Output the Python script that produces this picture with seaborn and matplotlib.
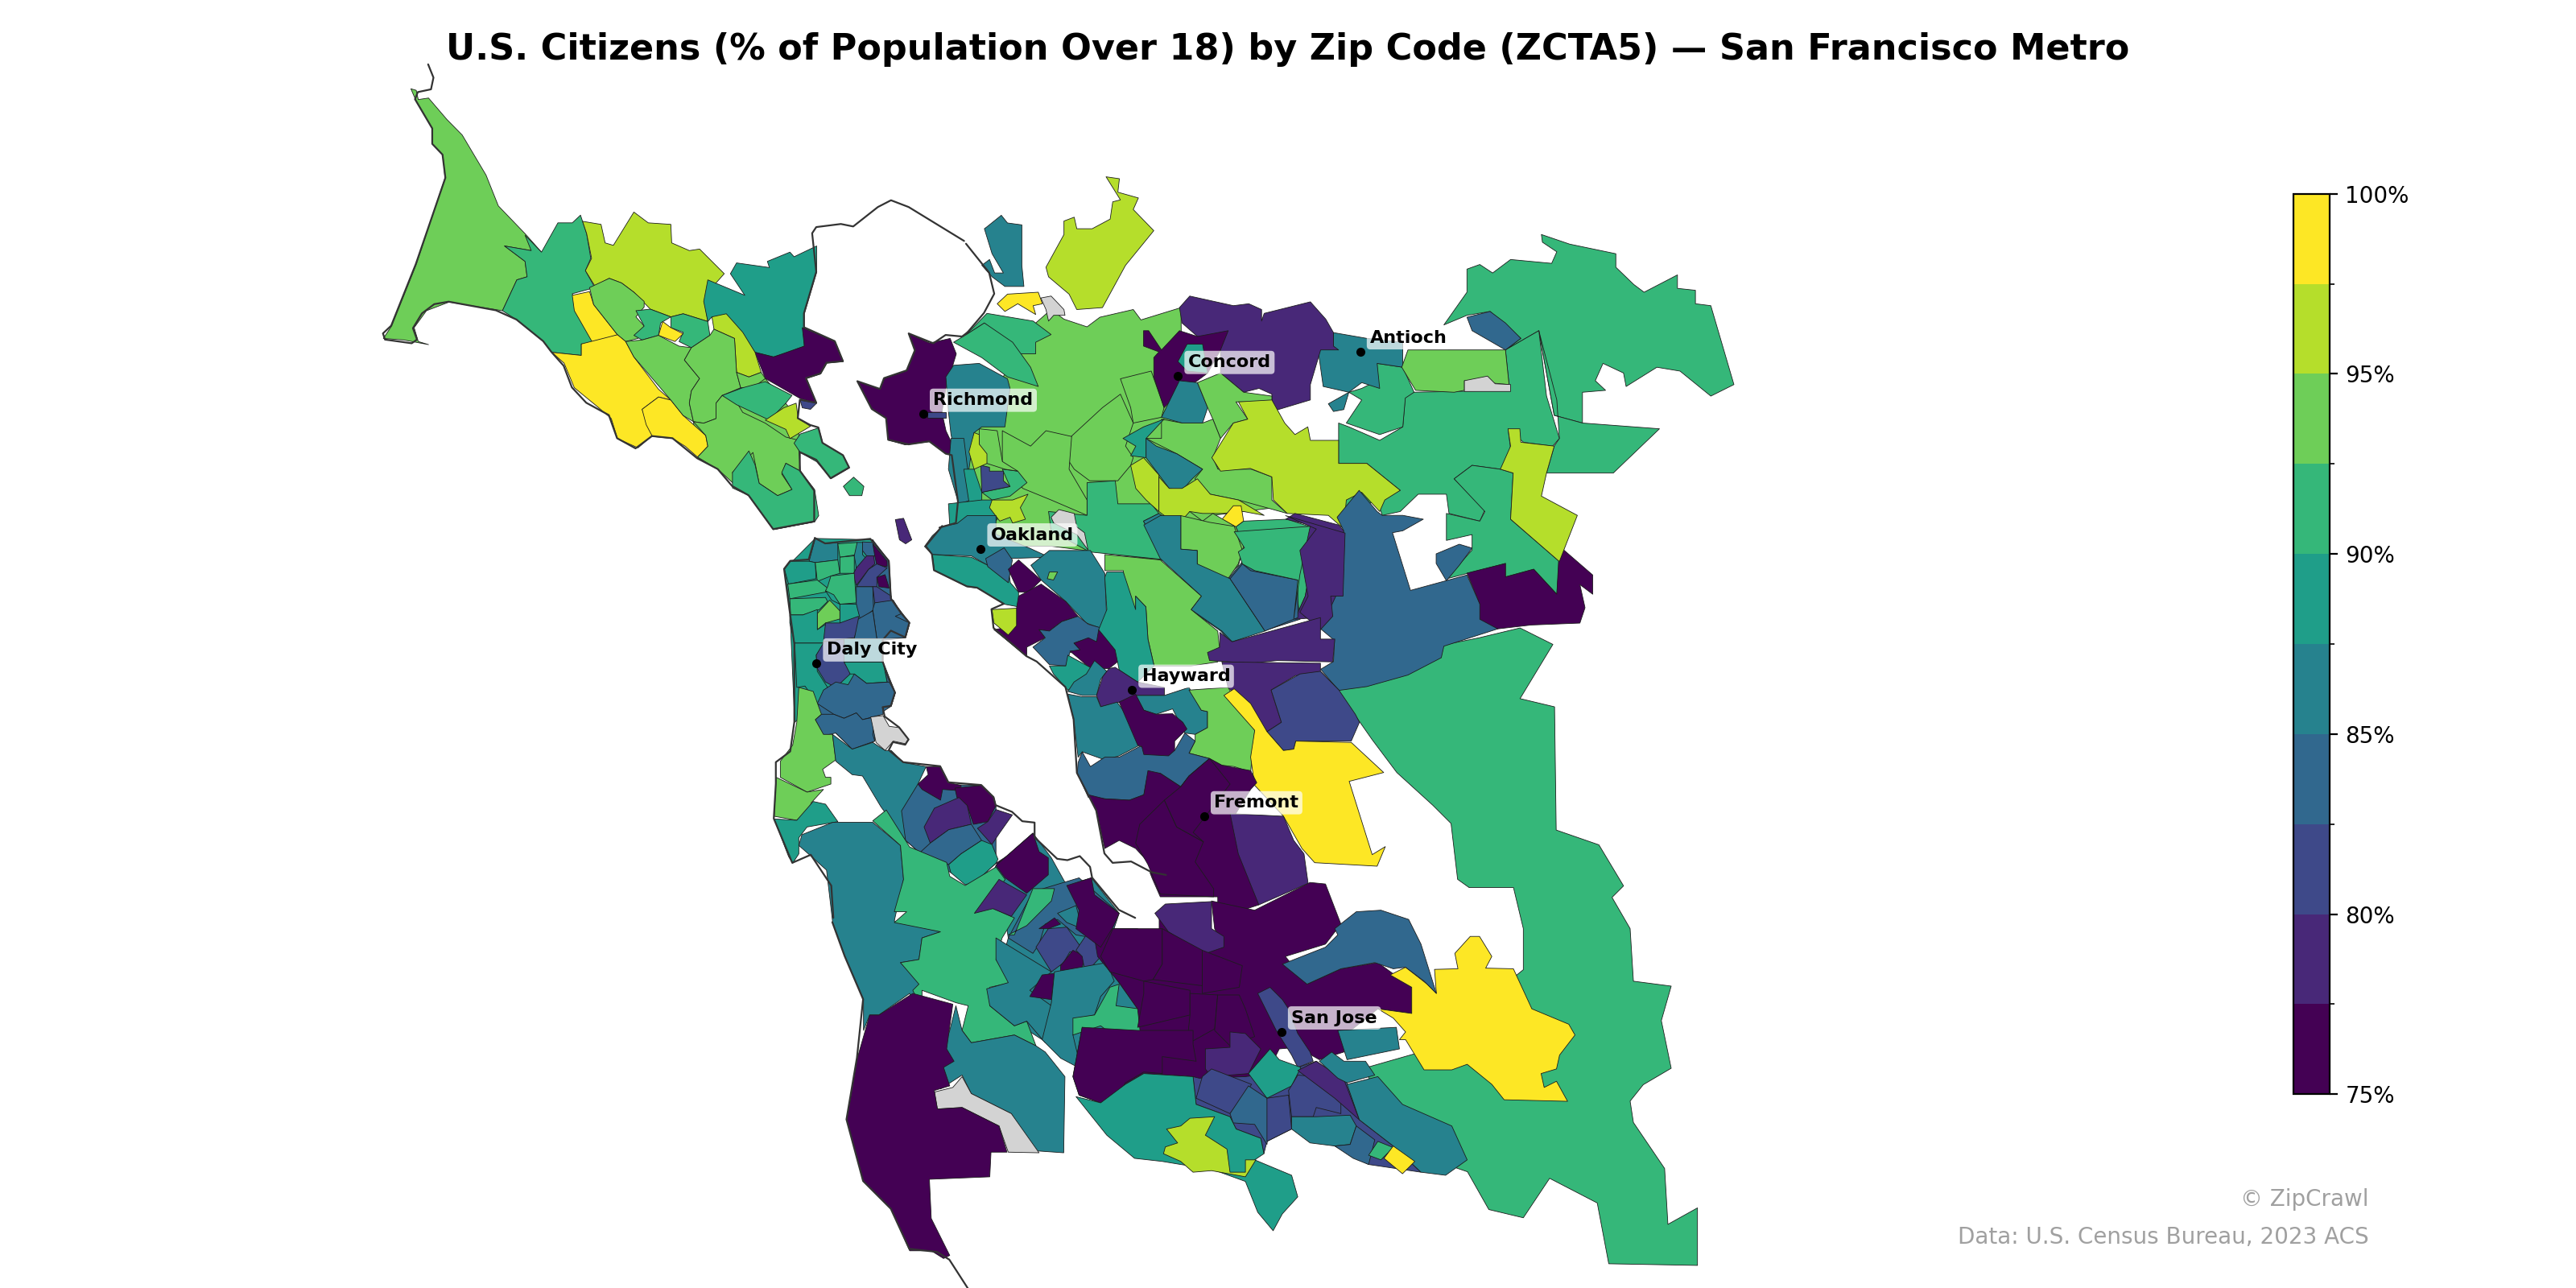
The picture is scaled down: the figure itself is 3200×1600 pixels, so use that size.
import numpy as np
import pandas as pd
import seaborn as sns
import matplotlib
matplotlib.use("Agg")
import matplotlib.pyplot as plt
from matplotlib.collections import PolyCollection
from matplotlib.colors import BoundaryNorm, ListedColormap
from matplotlib.cm import ScalarMappable

TITLE = "U.S. Citizens (% of Population Over 18) by Zip Code (ZCTA5) — San Francisco Metro"
BIN_EDGES = [75, 77.5, 80, 82.5, 85, 87.5, 90, 92.5, 95, 97.5, 100]
TICKS = [75, 80, 85, 90, 95, 100]
TICK_LABELS = ["75%", "80%", "85%", "90%", "95%", "100%"]
CITY_NAMES = ["Richmond", "Concord", "Antioch", "Oakland", "Daly City", "Hayward", "Fremont", "San Jose"]
CITY_X = [562, 717, 828, 597, 497, 689, 733, 780]
CITY_Y = [252, 229, 214, 334, 404, 420, 497, 628]
NA = float("nan")

# Zip outlines with their % value, each group traced in its own map frame: (x0, y0, xdiv, ydiv)
FRAME_E = (0, 0, 1, 1)
FRAME_N = (215.6, 29.4, 4.0, 5.33)
FRAME_C = (588, 98, 3.2, 4.27)
FRAME_P = (441, 313.6, 4.0, 6.12)
FRAME_S = (441, 490, 2.667, 5.33)

EAST_ZIPS = [
 (91, [(814,420),(880,392),(900,388),(925,382),(945,392),(925,425),(946,430),(947,505),(973,514),(988,539),(981,546),(992,565),(994,597),(1017,600),(1011,621),(1017,650),(1000,660),(992,670),(994,683),(1013,711),(1015,745),(1033,735),(1033,770),(979,769),(972,732),(943,717),(927,741),(906,736),(893,713),(855,700),(830,650),(865,640),(927,590),(927,565),(921,540),(894,540),(887,535),(883,501),(872,490),(850,470),(835,450)]),
]

NORTH_ZIPS = [
 (93.5, [(137,130),(150,135),(155,165),(180,160),(225,230),(262,280),(320,410),(350,510),(415,600),(455,660),(430,655),(365,640),(415,690),(420,740),(395,750),(360,850),(230,822),(175,850),(145,905),(155,950),(180,960),(120,945),(70,940),(90,900),(150,700),(220,420),(215,345),(190,310),(190,260),(150,170)]),
 (93.5, [(825,1210),(895,1125),(1000,1070),(1080,1200),(1085,1370),(1120,1435),(1120,1535),(1020,1560),(960,1450),(885,1365),(835,1325)]),
 (91, [(365,640),(430,655),(415,605),(455,660),(495,565),(530,565),(550,540),(565,600),(575,680),(562,720),(585,775),(530,795),(575,920),(585,955),(552,958),(552,995),(480,985),(460,950),(395,880),(360,850),(395,750),(420,740),(415,690)]),
 (96, [(555,560),(600,570),(610,630),(630,638),(680,530),(715,565),(770,570),(772,630),(815,655),(840,650),(900,730),(860,790),(852,820),(860,885),(800,860),(770,870),(720,845),(680,790),(650,760),(620,745),(585,770),(562,720),(577,680),(565,600)]),
 (88.5, [(860,750),(950,800),(915,730),(930,695),(1010,710),(1005,690),(1060,660),(1070,675),(1125,640),(1125,725),(1095,860),(1095,965),(1045,990),(1020,1000),(975,985),(930,900),(870,870),(860,885),(850,820)]),
 (76, [(1090,905),(1170,950),(1190,1015),(1150,1020),(1135,1055),(1100,1070),(1125,1150),(1085,1135),(1000,1070),(975,985),(1020,1000),(1095,965)]),
 (99, [(530,800),(572,788),(582,830),(640,928),(590,952),(580,955),(535,850)]),
 (93.5, [(572,775),(620,745),(650,760),(680,790),(705,820),(705,838),(685,870),(705,900),(690,940),(660,950),(640,928),(582,830)]),
 (91, [(685,850),(720,845),(770,870),(745,890),(740,930),(700,945),(680,930),(705,900)]),
 (91, [(770,870),(800,860),(860,885),(865,930),(820,970),(790,950),(800,920),(770,905)]),
 (99, [(750,885),(770,905),(800,925),(780,950),(740,930)]),
 (96, [(870,870),(905,860),(945,920),(975,985),(990,1050),(960,1065),(930,1050),(925,940),(875,910)]),
 (99, [(480,985),(552,995),(552,958),(640,928),(660,950),(680,1000),(740,1105),(770,1140),(740,1130),(700,1170),(725,1255),(690,1295),(640,1265),(625,1200),(590,1160),(535,1100),(510,1020)]),
 (99, [(740,1130),(770,1140),(800,1190),(855,1255),(860,1290),(835,1325),(805,1290),(775,1265),(725,1258),(710,1220),(700,1170)]),
 (93.5, [(660,950),(700,945),(740,930),(790,965),(820,970),(803,1010),(840,1070),(820,1110),(815,1150),(825,1210),(800,1190),(770,1140),(680,1000)]),
 (93.5, [(820,970),(865,930),(875,910),(925,940),(930,1050),(940,1100),(895,1125),(880,1150),(880,1200),(850,1215),(825,1210),(815,1150),(820,1110),(840,1070),(803,1010)]),
 (93.5, [(930,1050),(960,1065),(990,1050),(1000,1070),(970,1100),(940,1100)]),
 (93.5, [(895,1125),(925,1135),(945,1180),(1000,1215),(1050,1260),(1080,1270),(1085,1370),(1050,1345),(1040,1380),(1065,1430),(1030,1450),(985,1410),(970,1310),(920,1375),(930,1420),(885,1365),(835,1325),(860,1290),(855,1255),(825,1210),(850,1215),(880,1200),(880,1150)]),
 (91, [(960,1305),(975,1350),(985,1410),(1030,1450),(1065,1430),(1040,1375),(1050,1345),(1085,1370),(1120,1430),(1130,1515),(1120,1535),(1020,1560),(960,1450),(920,1425),(920,1375)]),
 (91, [(895,1125),(945,1100),(1000,1080),(1065,1125),(1050,1150),(1010,1205),(970,1180),(930,1155)]),
 (96, [(1045,1165),(1075,1150),(1080,1200),(1110,1225),(1060,1265),(1050,1235),(1000,1205)]),
 (91, [(1085,1250),(1130,1230),(1140,1280),(1190,1320),(1205,1360),(1160,1395),(1125,1340),(1085,1310),(1070,1280)]),
 (91, [(1190,1420),(1215,1390),(1240,1420),(1235,1450),(1205,1450)]),
 (81, [(1085,1140),(1125,1150),(1110,1170),(1090,1165)]),
 (76, [(1350,925),(1400,955),(1450,940),(1465,990),(1440,1100),(1430,1180),(1440,1240),(1465,1310),(1440,1315),(1400,1275),(1340,1285),(1300,1270),(1295,1200),(1260,1170),(1225,1080),(1280,1105),(1290,1070),(1345,1045),(1365,980)]),
 (81, [(1395,1180),(1440,1180),(1440,1200),(1395,1200)]),
]

CENTRAL_ZIPS = [
 (86, [(40,170),(68,140),(80,160),(108,165),(108,270),(112,325),(75,325),(50,300),(30,270),(45,255),(55,290),(72,290),(50,240),(35,175)]),
 (96, [(272,40),(298,45),(295,80),(335,95),(325,125),(365,180),(310,270),(265,380),(215,385),(200,345),(160,300),(155,275),(190,190),(190,155),(210,145),(215,175),(245,175),(280,150),(285,105),(300,100)]),
 (93.5, [(5,700),(100,500),(135,420),(165,385),(190,410),(235,430),(260,405),(325,385),(340,412),(418,380),(420,700),(500,800),(600,900),(480,920),(400,1040),(165,1000),(0,1000)]),
 (93.5, [(300,565),(360,545),(385,640),(380,665),(325,680),(320,640)]),
 (93.5, [(200,720),(265,640),(300,605),(325,680),(310,740),(325,770),(320,790),(295,830),(240,830),(210,800),(200,780)]),
 (93.5, [(70,700),(125,740),(155,700),(205,715),(200,800),(235,880),(235,920),(165,880),(110,850),(70,790)]),
 (91, [(235,835),(290,830),(295,890),(360,890),(375,915),(345,935),(385,1035),(240,1015),(165,960),(160,910),(235,920)]),
 (91, [(0,450),(40,395),(130,415),(165,450),(135,470),(135,500),(105,500),(35,420)]),
 (91, [(0,450),(35,420),(90,470),(125,535),(140,585),(80,560),(30,510),(-25,470)]),
 (99, [(60,370),(80,345),(140,340),(148,370),(130,375),(135,398),(100,370),(75,390)]),
 (NA, [(145,355),(165,350),(190,385),(192,400),(170,400),(160,415),(155,385)]),
 (86, [(-40,560),(-25,530),(25,525),(80,565),(85,590),(75,690),(30,690),(15,705),(5,800),(-15,800),(-30,710),(-35,650)]),
 (86, [(-30,720),(-5,720),(10,880),(-15,890),(-35,800)]),
 (88.5, [(-5,800),(15,800),(30,860),(30,890),(5,885)]),
 (88.5, [(-35,890),(30,880),(50,880),(60,930),(20,1000),(-30,1000)]),
 (91, [(70,800),(100,805),(118,835),(85,870),(50,880),(30,860),(85,845)]),
 (81, [(28,790),(45,795),(45,805),(72,805),(72,830),(85,845),(30,860)]),
 (93.5, [(25,695),(60,700),(70,780),(100,805),(75,800),(40,785),(25,735)]),
 (96, [(15,705),(25,710),(25,735),(40,760),(40,785),(15,800),(5,755)]),
 (96, [(50,880),(90,880),(120,865),(105,900),(115,930),(90,940),(85,925),(65,935),(45,900)]),
 (NA, [(165,925),(180,905),(210,915),(215,950),(230,965),(237,1010),(215,970),(170,940)]),
 (91, [(1120,190),(1175,215),(1265,240),(1265,275),(1300,320),(1320,340),(1385,295),(1385,330),(1420,335),(1420,370),(1450,375),(1495,580),(1450,610),(1390,545),(1345,535),(1285,585),(1280,550),(1240,525),(1225,570),(1245,595),(1200,600),(1200,680),(1145,660),(1115,440),(1050,490),(1080,460),(1020,390),(975,400),(930,425),(975,340),(975,280),(1000,268),(1025,290),(1060,255),(1140,265),(1150,235),(1122,210)]),
 (91, [(1115,440),(1150,620),(1155,720),(1145,740),(1130,810),(1260,810),(1350,695),(1200,680),(1145,660)]),
 (91, [(725,680),(745,690),(805,725),(850,690),(855,610),(870,600),(1058,595),(1050,490),(1115,440),(1130,610),(1155,720),(1142,740),(1085,730),(1055,695),(1065,800),(1040,800),(985,790),(950,825),(1010,905),(1000,935),(940,915),(935,865),(880,865),(845,910),(810,920),(800,880),(765,850),(735,875),(730,950),(722,925),(845,855),(780,785),(725,785)]),
 (91, [(800,525),(850,535),(872,600),(855,615),(850,690),(805,710),(740,680),(770,620),(745,600),(770,590),(800,570)]),
 (91, [(1060,930),(1155,1040),(1150,1125),(1105,1060),(1050,1080),(1050,1045),(935,1085),(985,1010),(985,970),(935,985),(935,915),(1000,935),(1010,910),(950,825),(985,790),(1040,800),(1065,810)]),
 (83.5, [(975,405),(1020,390),(1050,420),(1080,460),(1050,490),(985,440)]),
 (86, [(715,445),(780,460),(850,470),(850,535),(800,525),(805,590),(770,575),(745,600),(695,585),(685,490),(715,480)]),
 (86, [(705,630),(745,600),(735,645),(715,650)]),
 (78.5, [(415,380),(435,350),(520,375),(550,370),(575,385),(575,415),(580,395),(610,385),(670,365),(700,410),(715,445),(715,480),(725,490),(690,490),(670,580),(670,620),(595,650),(595,605),(570,590),(540,600),(495,550),(495,490),(450,455),(420,420)]),
 (76, [(345,440),(355,440),(380,490),(415,440),(450,455),(510,440),(495,490),(470,550),(450,570),(415,600),(385,640),(365,560),(365,510),(375,495),(345,480)]),
 (88.5, [(430,475),(460,475),(470,550),(430,545),(412,520)]),
 (86, [(415,570),(450,575),(470,640),(460,680),(420,680),(380,665)]),
 (93.5, [(450,575),(495,550),(540,600),(595,610),(595,650),(545,625),(525,625),(548,670),(520,680),(495,720),(480,670),(470,640)]),
 (93.5, [(380,670),(420,680),(460,680),(480,670),(495,720),(480,770),(490,800),(555,800),(595,820),(595,880),(625,915),(530,880),(475,865),(445,825),(460,800),(410,760),(350,720),(380,720)]),
 (96, [(530,625),(595,620),(620,680),(640,710),(665,690),(670,725),(725,725),(725,785),(780,785),(845,855),(815,880),(805,910),(770,860),(740,880),(735,955),(705,920),(625,915),(598,880),(595,820),(553,798),(495,805),(478,770),(520,680),(548,670)]),
 (88.5, [(305,720),(345,690),(385,670),(350,720),(350,770),(320,765),(330,740)]),
 (86, [(350,720),(370,740),(410,760),(460,800),(440,825),(420,855),(395,850),(350,770)]),
 (96, [(320,790),(345,770),(375,815),(375,910),(350,880),(330,850)]),
 (96, [(375,820),(395,850),(420,850),(450,825),(475,865),(530,880),(580,920),(540,910),(500,915),(460,915),(435,910),(420,955),(375,910)]),
 (99, [(520,895),(535,895),(540,935),(525,950),(498,930)]),
 (93.5, [(415,940),(435,910),(460,935),(480,915),(525,950),(540,1000),(530,1050),(505,1085),(450,1050),(450,1005),(418,1005)]),
 (91, [(525,950),(540,935),(625,930),(670,950),(650,1010),(675,1025),(660,1130),(640,1190),(640,1085),(610,1060),(535,1045),(545,1010)]),
 (86, [(345,935),(375,915),(420,955),(418,1005),(450,1005),(450,1050),(505,1085),(580,1215),(515,1250),(495,1220),(435,1165),(455,1130),(385,1035)]),
 (83.5, [(510,1085),(535,1045),(610,1060),(640,1085),(650,1190),(580,1220)]),
 (78.5, [(622,930),(640,915),(725,945),(735,960),(735,1100),(715,1215),(690,1215),(688,1185),(640,1190),(660,1130),(675,1020),(650,1010),(670,945)]),
 (83.5, [(722,925),(765,855),(800,910),(810,920),(850,920),(890,930),(850,960),(830,965),(865,1115),(975,1075),(1000,1150),(1035,1215),(930,1260),(925,1290),(860,1335),(780,1365),(725,1375),(690,1320),(715,1300),(717,1245),(690,1215),(730,1100),(735,960)]),
 (76, [(975,1070),(1050,1045),(1050,1080),(1105,1060),(1150,1125),(1155,1000),(1220,1075),(1220,1125),(1195,1100),(1205,1160),(1195,1200),(1100,1205),(1035,1215),(1000,1190),(1000,1150)]),
 (83.5, [(915,1020),(960,995),(985,1005),(960,1050),(935,1090),(915,1045)]),
 (96, [(1055,695),(1078,695),(1080,730),(1145,740),(1130,810),(1120,870),(1190,920),(1155,1040),(1060,930),(1065,810),(1040,800),(1060,740)]),
 (93.5, [(848,535),(860,490),(950,490),(1050,490),(1057,580),(1015,575),(970,570),(970,595),(950,600),(875,595)]),
 (NA, [(970,570),(1015,558),(1030,578),(1060,580),(1060,598),(970,598)]),
]

PENINSULA_ZIPS = [
 (88.5, [(145,200),(220,85),(360,90),(360,470),(385,550),(395,620),(240,650),(220,700),(170,770),(158,350)]),
 (83.5, [(360,90),(400,170),(405,310),(450,400),(440,455),(385,465),(385,545),(415,660),(405,710),(365,750),(365,840),(310,870),(270,810),(220,760),(220,700),(240,650),(395,620),(385,550),(360,470)]),
 (78.5, [(415,15),(435,10),(455,90),(440,105),(425,90)]),
 (86, [(205,170),(220,85),(245,105),(275,100),(275,165),(220,175)]),
 (91, [(275,105),(322,100),(322,145),(280,155)]),
 (88.5, [(145,200),(160,170),(205,170),(220,175),(222,235),(155,255)]),
 (91, [(220,175),(275,165),(280,215),(258,225),(225,245)]),
 (91, [(280,155),(315,150),(315,215),(280,215)]),
 (86, [(322,100),(335,100),(335,145),(350,170),(320,195),(315,150)]),
 (83.5, [(335,98),(360,100),(368,150),(345,150),(335,130)]),
 (76, [(360,105),(395,170),(395,190),(370,185),(365,150)]),
 (78.5, [(345,150),(362,150),(365,180),(350,200),(320,260),(312,220),(320,195)]),
 (81, [(350,200),(370,180),(395,195),(370,230),(370,265),(320,265)]),
 (76, [(370,230),(390,220),(400,270),(375,265)]),
 (91, [(153,255),(225,240),(250,270),(245,285),(158,310)]),
 (91, [(258,225),(315,215),(320,325),(280,330),(265,300),(245,280),(250,265)]),
 (88.5, [(245,280),(265,295),(280,330),(260,315)]),
 (91, [(158,310),(245,305),(250,320),(230,350),(190,370),(160,370)]),
 (93.5, [(225,365),(255,315),(280,355),(280,385),(245,400),(225,425)]),
 (83.5, [(320,265),(360,265),(362,350),(330,390),(320,340)]),
 (81, [(360,265),(370,265),(405,300),(405,325),(365,325)]),
 (88.5, [(158,370),(190,370),(225,350),(225,425),(245,405),(245,475),(170,475),(158,400)]),
 (88.5, [(280,330),(320,330),(330,390),(280,400)]),
 (83.5, [(365,325),(410,315),(430,365),(415,375),(450,400),(440,455),(370,460),(360,350)]),
 (81, [(245,400),(280,400),(325,375),(325,410),(315,455),(285,460),(240,470)]),
 (83.5, [(325,385),(360,355),(370,460),(315,460)]),
 (81, [(240,470),(290,460),(305,590),(270,640),(245,620),(225,570),(222,520)]),
 (88.5, [(170,475),(240,475),(222,520),(225,580),(250,640),(265,700),(225,700),(195,635),(175,640)]),
 (88.5, [(290,545),(385,545),(395,620),(345,625),(315,590),(305,590)]),
 (86, [(290,460),(385,460),(385,545),(290,545)]),
 (83.5, [(240,650),(270,620),(300,630),(315,590),(345,625),(400,620),(415,660),(405,710),(385,715),(385,740),(335,760),(320,735),(290,755),(265,740),(225,700)]),
 (83.5, [(220,760),(235,740),(265,740),(290,755),(320,735),(335,760),(365,750),(360,815),(365,840),(310,870),(270,810),(240,820)]),
 (NA, [(355,750),(385,745),(400,785),(425,790),(448,835),(440,850),(410,840),(390,875),(368,845)]),
 (93.5, [(180,640),(215,655),(235,740),(220,760),(240,815),(262,815),(270,910),(238,945),(245,975),(258,975),(258,1000),(200,1030),(135,975),(135,915),(165,855),(175,770)]),
 (93.5, [(125,975),(200,1030),(240,1020),(210,1070),(205,1100),(175,1135),(120,1120)]),
 (88.5, [(120,1130),(175,1135),(215,1065),(245,1075),(275,1140),(200,1160),(180,1200),(180,1260),(165,1295),(155,1270)]),
 (86, [(262,815),(310,870),(360,845),(390,875),(405,875),(435,920),(490,935),(470,1000),(560,1080),(500,1100),(480,1180),(495,1230),(470,1250),(440,1210),(380,1085),(335,970),(310,965),(270,915)]),
 (83.5, [(470,1000),(625,1005),(660,1080),(660,1295),(610,1365),(550,1330),(470,1250),(440,1210),(430,1100)]),
 (76, [(470,1000),(495,965),(490,935),(525,935),(545,995),(575,1005),(575,1025),(530,1020),(525,1060),(480,1020)]),
 (76, [(560,1015),(625,1005),(655,1050),(660,1080),(640,1140),(605,1150),(590,1080),(565,1050)]),
 (78.5, [(510,1090),(570,1050),(590,1080),(600,1150),(545,1170),(500,1220),(485,1160)]),
 (78.5, [(660,1095),(700,1115),(670,1180),(650,1225),(615,1165),(640,1140)]),
 (83.5, [(500,1220),(545,1170),(600,1150),(625,1210),(575,1260),(545,1300),(475,1255)]),
 (88.5, [(625,1210),(650,1225),(665,1280),(660,1295),(610,1365),(585,1375),(550,1330),(545,1300),(575,1260)]),
 (76, [(660,1295),(690,1265),(745,1190),(760,1220),(790,1280),(790,1345),(780,1370),(725,1410)]),
 (86, [(486,115),(505,75),(530,40),(565,30),(590,0),(660,0),(660,70),(740,120),(790,155),(690,160),(640,185),(600,150),(505,145)]),
 (88.5, [(505,145),(600,155),(640,185),(690,195),(695,250),(715,285),(715,340),(680,330),(615,270),(590,265),(510,205)]),
 (83.5, [(635,160),(680,120),(700,165),(690,250),(640,190)]),
 (86, [(745,185),(790,130),(890,130),(925,215),(930,400),(915,420),(880,400),(830,320),(770,240)]),
 (76, [(690,200),(715,165),(770,240),(740,285),(715,285)]),
 (76, [(715,300),(770,255),(830,320),(860,375),(820,395),(790,430),(765,425),(780,455),(735,490),(735,525),(655,425),(710,410),(710,345)]),
 (96, [(650,350),(710,345),(710,410),(690,445),(655,400)]),
 (83.5, [(750,490),(780,455),(765,425),(790,430),(820,395),(860,375),(885,405),(920,420),(905,470),(880,460),(850,475),(865,500),(840,510),(830,560),(790,555)]),
 (76, [(840,505),(865,500),(850,475),(885,455),(905,470),(910,425),(940,450),(960,540),(935,570),(890,570),(860,530)]),
 (88.5, [(790,560),(830,560),(835,520),(895,570),(880,595),(850,640),(835,650),(800,590)]),
 (86, [(835,655),(850,620),(880,590),(900,540),(930,580),(915,610),(905,670),(870,670)]),
 (93.5, [(790,210),(810,210),(800,240),(785,235)]),
 (93.5, [(1110,0),(1180,25),(1240,40),(1260,130),(1250,180),(1225,235),(1150,185),(1150,130),(1110,125)]),
 (86, [(1020,35),(1060,0),(1110,0),(1110,125),(1150,130),(1150,180),(1230,235),(1315,430),(1235,470),(1210,430),(1135,350),(1160,300),(1060,160)]),
 (83.5, [(1230,235),(1260,180),(1280,205),(1395,240),(1395,380),(1315,430)]),
 (91, [(1240,60),(1425,40),(1400,220),(1385,385),(1395,240),(1290,205),(1260,180),(1250,135),(1265,120)]),
 (93.5, [(925,145),(1060,165),(1160,300),(1135,350),(1200,430),(1205,505),(1200,545),(1135,560),(1045,560),(1030,460),(1025,340),(1000,300),(1000,350),(975,290),(970,205),(925,205)]),
 (88.5, [(930,210),(970,210),(1000,350),(1000,300),(1025,340),(1030,460),(1045,560),(1005,620),(960,575),(950,500),(910,425),(930,350),(925,230)]),
 (78.5, [(905,670),(920,600),(935,570),(950,565),(1005,620),(1070,640),(1070,670),(1000,670),(960,695),(915,712)]),
 (86, [(835,665),(870,675),(905,675),(915,712),(955,695),(1005,800),(1010,855),(960,895),(925,910),(870,880),(860,900),(850,770)]),
 (86, [(1000,670),(1070,670),(1130,640),(1160,725),(1175,730),(1175,790),(1145,815),(1120,810),(1090,720),(1050,740),(1020,725)]),
 (93.5, [(1130,650),(1225,640),(1290,800),(1280,955),(1240,935),(1210,930),(1180,905),(1130,885),(1145,840),(1145,815),(1175,790),(1175,730),(1160,725)]),
 (78.5, [(1365,0),(1510,65),(1505,300),(1475,300),(1480,375),(1450,425),(1400,360),(1420,300),(1400,130),(1440,50)]),
 (78.5, [(1205,435),(1235,470),(1450,380),(1450,460),(1485,460),(1480,545),(1345,540),(1280,550),(1180,540),(1175,510),(1205,490)]),
 (78.5, [(1210,545),(1450,550),(1450,580),(1495,650),(1450,640),(1420,635),(1390,595),(1330,650),(1355,770),(1320,805),(1280,720),(1225,640)]),
 (81, [(1330,650),(1400,590),(1450,580),(1495,650),(1535,740),(1545,770),(1525,840),(1390,840),(1385,870),(1360,875),(1320,805),(1355,770)]),
 (99, [(1215,670),(1240,645),(1280,700),(1320,805),(1360,875),(1385,870),(1390,840),(1525,845),(1604,957),(1520,990),(1576,1263),(1608,1233),(1588,1306),(1436,1293),(1405,1240),(1360,1120),(1290,1005),(1280,900),(1290,800)]),
 (83.5, [(860,920),(870,880),(890,935),(925,900),(960,900),(1010,860),(1095,875),(1120,810),(1145,840),(1130,885),(1180,905),(1130,970),(1110,1010),(1060,960),(1030,960),(1020,1040),(985,1060),(925,1055),(885,1050),(858,960)]),
 (76, [(960,695),(1000,665),(1020,725),(1050,740),(1090,738),(1115,770),(1125,795),(1095,840),(1095,875),(1080,895),(1020,890),(1015,860),(1005,855)]),
 (76, [(885,1040),(925,1055),(985,1060),(1020,1040),(1030,950),(1060,960),(1110,1010),(1130,970),(1180,905),(1210,930),(1280,950),(1295,995),(1280,1020),(1240,1120),(1290,1300),(1300,1450),(1200,1500),(1200,1420),(1150,1420),(1060,1420),(1040,1350),(1035,1330),(1080,1340),(1030,1290),(1000,1240),(960,1210),(925,1240),(905,1100)]),
 (76, [(1010,1150),(1070,1060),(1100,1160),(1165,1215),(1145,1290),(1190,1390),(1190,1420),(1060,1410),(1030,1300),(1000,1220)]),
 (76, [(1070,1060),(1110,1010),(1130,970),(1180,905),(1230,1000),(1170,1120),(1140,1180),(1165,1215),(1100,1160)]),
 (78.5, [(1230,1110),(1360,1120),(1385,1210),(1410,1260),(1420,1370),(1300,1450),(1250,1260)]),
]

SOUTH_ZIPS = [
 (86, [(125,95),(175,55),(240,55),(285,130),(290,240),(275,375),(350,410),(320,430),(315,500),(285,510),(320,580),(310,660),(300,610),(250,680),(235,680),(225,730),(225,630),(195,490),(175,380),(165,210),(140,165),(120,130)]),
 (86, [(405,350),(440,195),(500,90),(530,170),(555,260),(595,235),(640,350),(610,460),(610,490),(640,575),(670,660),(675,750),(580,720),(578,855),(515,760),(430,650),(460,430),(450,300)]),
 (91, [(240,50),(262,15),(300,135),(360,185),(365,230),(390,260),(440,200),(455,240),(425,325),(470,365),(450,430),(440,500),(465,575),(430,590),(430,650),(470,715),(490,700),(505,780),(470,745),(400,770),(385,730),(395,650),(375,640),(320,600),(320,660),(305,600),(315,580),(285,510),(315,500),(320,430),(350,410),(275,380),(295,345),(275,345),(290,240),(285,130)]),
 (86, [(440,430),(530,540),(495,600),(530,650),(520,770),(490,700),(470,715),(430,650),(425,595),(460,575),(440,500)]),
 (83.5, [(460,430),(500,280),(575,235),(640,350),(625,440),(570,420),(540,370),(520,385),(510,450),(500,480)]),
 (91, [(470,420),(500,270),(535,270),(530,310),(490,390),(460,420)]),
 (78.5, [(405,350),(445,240),(490,290),(465,360),(435,335)]),
 (76, [(440,195),(500,90),(510,150),(525,170),(525,225),(490,285),(455,235)]),
 (86, [(540,350),(570,325),(580,400),(555,380)]),
 (81, [(505,460),(525,400),(555,395),(585,480),(560,475),(550,510),(530,540)]),
 (76, [(510,400),(535,365),(545,385),(525,400)]),
 (76, [(545,520),(565,470),(585,490),(580,525),(545,555)]),
 (81, [(570,470),(590,410),(620,470),(585,545),(580,490)]),
 (76, [(495,620),(515,550),(535,545),(530,630)]),
 (86, [(535,540),(620,510),(632,570),(610,620),(600,680),(575,690),(565,745),(578,855),(545,820),(515,760),(530,640)]),
 (91, [(565,690),(600,680),(625,590),(640,580),(635,650),(672,660),(675,750),(630,745),(610,715),(565,745)]),
 (81, [(760,880),(880,870),(930,850),(960,830),(1010,900),(1030,1020),(1085,1105),(1130,1190),(1045,1165),(990,1105),(920,1050),(880,1090),(875,1130),(870,1080),(830,1050),(820,1010),(765,970)]),
 (76, [(600,430),(630,400),(670,400),(680,430),(705,430),(705,360),(775,470),(810,460),(795,400),(790,310),(860,340),(950,250),(975,255),(1000,385),(975,450),(910,490),(945,580),(1000,530),(1060,510),(1115,590),(1115,675),(1060,660),(1010,740),(1005,800),(965,825),(930,785),(900,790),(880,870),(845,880),(770,885),(760,880),(680,870),(650,905),(635,955),(610,965),(575,940),(565,880),(580,720),(640,745),(675,750),(670,660),(640,575),(605,490)]),
 (76, [(555,260),(595,235),(600,290),(640,350),(630,395),(610,460),(570,400),(575,340)]),
 (78.5, [(698,350),(715,320),(790,312),(790,400),(810,425),(810,460),(778,482),(720,410)]),
 (76, [(610,490),(630,400),(710,400),(710,515),(695,565),(680,570),(625,540)]),
 (76, [(710,400),(775,470),(775,585),(695,565),(710,515)]),
 (76, [(775,470),(840,520),(835,590),(775,610)]),
 (76, [(680,570),(755,600),(755,680),(670,720),(680,610)]),
 (76, [(755,610),(800,615),(795,725),(750,775),(755,680)]),
 (76, [(800,615),(835,615),(845,660),(860,750),(820,780),(795,730)]),
 (76, [(580,720),(670,730),(760,730),(760,775),(765,830),(710,815),(710,870),(680,865),(650,900),(635,955),(610,965),(575,940),(565,880)]),
 (81, [(865,610),(885,590),(905,630),(915,660),(930,740),(950,800),(955,830),(930,850),(920,810),(895,730),(880,670)]),
 (99, [(1080,550),(1105,525),(1140,580),(1155,610),(1152,532),(1190,530),(1185,480),(1210,425),(1225,425),(1245,490),(1235,528),(1280,530),(1310,660),(1370,710),(1380,745),(1355,810),(1350,855),(1325,870),(1330,915),(1350,895),(1368,960),(1265,955),(1245,905),(1205,840),(1180,858),(1135,858),(1105,760),(1095,760),(1105,735),(1085,690),(1060,660),(1115,675),(1115,590)]),
 (83.5, [(905,515),(975,460),(995,420),(990,400),(1025,345),(1065,340),(1110,370),(1130,450),(1155,610),(1135,570),(1105,525),(1085,530),(1055,510),(1000,530),(945,580)]),
 (86, [(995,730),(1090,720),(1095,790),(1010,825)]),
 (78.5, [(780,790),(820,785),(820,735),(845,740),(870,790),(850,870),(790,880),(780,855)]),
 (88.5, [(850,870),(885,790),(900,825),(935,850),(920,910),(880,950)]),
 (81, [(775,880),(790,855),(855,905),(820,1000),(765,950)]),
 (83.5, [(820,1000),(850,910),(880,950),(885,1000),(880,1100),(860,1035),(825,1030)]),
 (81, [(880,950),(915,940),(920,1050),(880,1090)]),
 (81, [(930,875),(915,925),(920,1010),(955,1010),(960,980),(1000,1000),(1000,950),(960,880)]),
 (78.5, [(930,860),(960,830),(1005,890),(1030,1020),(990,950)]),
 (86, [(965,830),(985,800),(1005,830),(1040,830),(1055,875),(1010,900),(995,885)]),
 (86, [(1010,905),(1060,880),(1100,970),(1180,1040),(1205,1150),(1170,1200),(1130,1190),(1085,1105),(1030,1020)]),
 (86, [(920,1010),(960,1010),(1015,1005),(1025,1040),(1015,1100),(990,1105),(950,1095),(920,1050)]),
 (83.5, [(1025,1040),(1055,1085),(1045,1165),(1020,1145),(990,1105),(1015,1100)]),
 (91, [(1060,1090),(1085,1110),(1065,1150),(1045,1135)]),
 (99, [(1085,1105),(1120,1155),(1100,1195),(1070,1145)]),
 (88.5, [(570,945),(610,965),(650,905),(680,870),(760,880),(765,970),(820,1010),(830,1050),(870,1080),(875,1130),(860,1150),(920,1200),(930,1270),(905,1325),(890,1380),(865,1320),(845,1220),(790,1180),(740,1165),(710,1155),(665,1145),(620,1070)]),
 (96, [(795,1010),(780,1070),(815,1115),(820,1190),(845,1190),(845,1150),(862,1150),(845,1205),(790,1185),(760,1190),(740,1155),(712,1130),(715,1108),(735,1095),(717,1050),(740,1040),(755,1015)]),
 (86, [(365,730),(355,790),(350,875),(350,920),(385,875),(400,935),(465,1000),(500,1120),(550,1127),(552,880),(520,800),(505,780),(470,745),(400,770),(385,730),(375,650)]),
 (NA, [(385,880),(400,935),(465,1000),(510,1127),(460,1125),(445,1040),(385,980),(345,985),(340,930),(370,915)]),
 (76, [(305,610),(370,645),(360,790),(372,830),(355,850),(365,910),(340,925),(345,985),(385,980),(445,1040),(458,1125),(432,1125),(430,1205),(332,1213),(335,1340),(365,1460),(355,1470),(335,1445),(300,1445),(270,1310),(225,1220),(198,1020),(215,820),(235,680),(250,680)]),
]

NORTH_SHORE = [(180,52),(193,95),(187,133),(155,142),(148,165),(190,260),(190,310),(215,345),(222,420),(150,700),(90,900),(70,925),(75,945),(140,957),(153,945),(143,908),(165,860),(195,830),(230,822),(345,850),(395,880),(460,950),(480,985),(510,1030),(530,1100),(565,1150),(620,1190),(640,1265),(685,1298),(725,1258),(775,1265),(835,1330),(885,1365),(920,1420),(960,1450),(1020,1560),(1120,1535),(1120,1435),(1085,1370),(1085,1310),(1125,1335),(1160,1395),(1205,1360),(1190,1320),(1140,1280),(1130,1230),(1110,1222),(1080,1200),(1085,1140),(1125,1150),(1100,1070),(1135,1055),(1150,1020),(1190,1015),(1170,950),(1095,905),(1095,860),(1125,725),(1115,600),(1125,580),(1185,570),(1215,578),(1275,515),(1307,493),(1350,515),(1485,625)]
RICHMOND_SHORE = [(1495,920),(1480,935),(1440,930),(1410,957),(1350,925),(1365,980),(1345,1045),(1290,1070),(1280,1105),(1225,1080),(1260,1170),(1295,1200),(1300,1270),(1350,1285),(1400,1275),(1440,1315),(1455,1320),(1470,1470),(1465,1540),(1425,1555)]
CARQUINEZ_SHORE = [(0,215),(45,290),(55,345),(35,395),(0,450)]
BAY_WEST_SHORE = [(220,85),(245,105),(355,88),(400,170),(405,310),(430,365),(450,400),(440,455),(405,430),(385,465),(385,545),(400,610),(415,660),(405,710),(385,715),(390,750),(425,790),(448,835),(440,855),(410,845),(400,875),(435,920),(525,935),(545,995),(625,1005),(655,1050),(660,1080),(700,1105),(725,1140),(755,1145),(755,1200),(810,1280),(835,1285),(865,1270),(890,1310),(895,1350),(960,1470),(1000,1500)]
PACIFIC_SHORE = [(220,85),(205,165),(160,170),(145,200),(158,350),(170,480),(170,770),(160,880),(125,920),(125,1000),(120,1130),(165,1295),(210,1265),(260,1380),(265,1500)]
BAY_EAST_SHORE = [(530,40),(490,115),(505,145),(510,205),(590,265),(615,270),(680,330),(650,350),(655,420),(735,525),(760,545),(830,640),(850,760),(858,960),(885,1040),(905,1100),(925,1260),(945,1295),(990,1290),(1040,1330),(1075,1340)]
SOUTH_SHORE = [(175,380),(195,490),(225,630),(215,820),(198,1020),(225,1220),(270,1310),(300,1440),(345,1450),(365,1475),(395,1568)]

GROUPS = [(FRAME_E, EAST_ZIPS), (FRAME_N, NORTH_ZIPS), (FRAME_C, CENTRAL_ZIPS),
          (FRAME_P, PENINSULA_ZIPS), (FRAME_S, SOUTH_ZIPS)]
SHORES = [(FRAME_N, NORTH_SHORE), (FRAME_N, RICHMOND_SHORE), (FRAME_C, CARQUINEZ_SHORE),
          (FRAME_P, BAY_WEST_SHORE), (FRAME_P, PACIFIC_SHORE), (FRAME_P, BAY_EAST_SHORE), (FRAME_S, SOUTH_SHORE)]


def to_map(points, frame):
    x0, y0, xdiv, ydiv = frame
    pts = np.asarray(points, float)
    return np.column_stack([x0 + pts[:, 0] / xdiv, y0 + pts[:, 1] / ydiv])


sns.set_theme(style="white")
plt.rcParams["font.family"] = "DejaVu Sans"
cmap = ListedColormap(sns.color_palette(plt.get_cmap("viridis", 10)(np.arange(10))))
cmap.set_bad("#d3d3d3")
norm = BoundaryNorm(BIN_EDGES, cmap.N)

fig = plt.figure(figsize=(16, 8), dpi=200)
ax = fig.add_axes([0, 0, 1, 1])
ax.axis("off")

for frame, zips in GROUPS:
    for val, outline in zips:
        ax.add_collection(PolyCollection([to_map(outline, frame)], array=np.ma.masked_invalid([val]),
                                         cmap=cmap, norm=norm, edgecolors="#1c1c1c", linewidths=0.3))

for frame, shore in SHORES:
    line = to_map(shore, frame)
    ax.plot(line[:, 0], line[:, 1], color="#333333", lw=0.8, zorder=5)

cities = pd.DataFrame({"name": CITY_NAMES, "x": CITY_X, "y": CITY_Y})
sns.scatterplot(data=cities, x="x", y="y", color="black", s=16, linewidth=0, zorder=6, ax=ax, legend=False)
ax.set_xlim(0, 1568)
ax.set_ylim(784, 0)
for _, c in cities.iterrows():
    ax.annotate(c["name"], (c["x"], c["y"]), xytext=(4.5, 4), textcoords="offset points",
                fontsize=8, fontweight="bold", color="black", zorder=7,
                bbox=dict(boxstyle="round,pad=0.2", fc="white", ec="none", alpha=0.7))

fig.text(0.5, 1 - 30 / 784, TITLE, ha="center", va="center", fontsize=16, fontweight="bold", color="black")
fig.text(1442 / 1568, 1 - 730 / 784, "© ZipCrawl", ha="right", va="center", fontsize=10, color="#a0a0a0")
fig.text(1442 / 1568, 1 - 753 / 784, "Data: U.S. Census Bureau, 2023 ACS", ha="right", va="center", fontsize=10, color="#a0a0a0")

cax = fig.add_axes([1396 / 1568, 1 - 666 / 784, 22 / 1568, 548 / 784])
cbar = fig.colorbar(ScalarMappable(norm=norm, cmap=cmap), cax=cax, ticks=TICKS, spacing="proportional")
cbar.ax.set_yticklabels(TICK_LABELS, fontsize=10, color="black")
cbar.ax.yaxis.set_ticks(BIN_EDGES, minor=True)
cbar.ax.tick_params(which="major", right=True, length=3.5, width=0.8, color="black")
cbar.ax.tick_params(which="minor", right=True, length=2, width=0.6, color="black")
cbar.outline.set_edgecolor("black")
cbar.outline.set_linewidth(0.8)

fig.savefig("out.png", dpi=200)
